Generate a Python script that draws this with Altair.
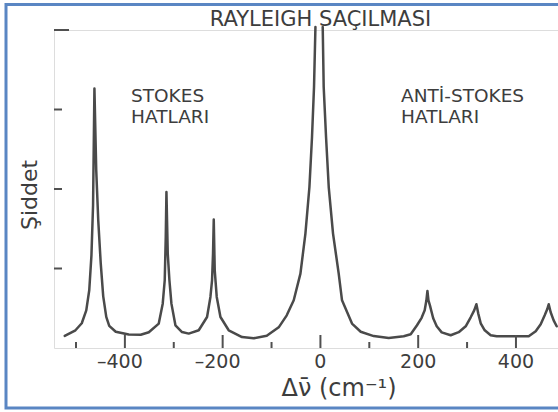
import altair as alt
import pandas as pd

# ---- spectrum (Raman shift in cm^-1, intensity in axis units) ----
shift_left = [-523.0, -501.1, -488.2, -479.0, -472.9, -468.4, -465.1, -462.3, -458.6, -454.5,
              -449.4, -444.3, -438.1, -432.0, -418.7, -392.1, -367.6, -351.0, -330.7, -322.6,
              -318.5, -316.4, -315.0, -312.3, -308.9, -304.8, -296.6, -283.1, -269.4, -248.9,
              -231.9, -225.0, -221.7, -219.7, -218.2, -216.2, -212.1, -204.5, -187.6, -160.4,
              -136.4, -109.8, -85.3, -68.9, -54.6, -40.9, -30.7, -22.5, -17.2, -13.1, -10.2]
int_left = [0.153, 0.223, 0.311, 0.474, 0.726, 1.166, 1.795, 3.263, 2.235, 1.606,
            1.065, 0.650, 0.392, 0.279, 0.204, 0.169, 0.166, 0.198, 0.307, 0.558,
            0.852, 1.396, 1.962, 1.187, 0.852, 0.558, 0.286, 0.201, 0.181, 0.223,
            0.390, 0.642, 0.852, 1.187, 1.615, 0.977, 0.642, 0.390, 0.223, 0.138,
            0.122, 0.153, 0.260, 0.411, 0.600, 0.936, 1.439, 2.025, 2.654, 3.283, 4.038]

shift_right = [4.7, 6.7, 11.5, 17.0, 25.8, 37.4, 44.2, 64.6, 82.4, 109.0, 139.7, 170.4,
               184.7, 197.6, 207.0, 213.3, 216.8, 218.9, 221.0, 224.0, 230.7, 237.9, 248.1,
               266.5, 282.9, 297.2, 307.4, 314.6, 319.1, 322.8, 327.9, 336.1, 348.3, 360.6,
               426.1, 440.4, 450.6, 458.8, 463.9, 467.0, 471.0, 477.1, 483.3]
int_right = [4.038, 3.283, 2.654, 2.025, 1.439, 0.936, 0.600, 0.307, 0.204, 0.150, 0.126, 0.147,
             0.172, 0.286, 0.380, 0.474, 0.600, 0.717, 0.600, 0.536, 0.374, 0.273, 0.197,
             0.160, 0.199, 0.273, 0.386, 0.474, 0.550, 0.436, 0.311, 0.223, 0.160, 0.147,
             0.147, 0.210, 0.298, 0.411, 0.487, 0.550, 0.449, 0.348, 0.273]

x_major_ticks = [-400, -200, 0, 200, 400]
x_major_labels = ["–400", "–200", "0", "200", "400"]
x_minor_ticks = [-500, -300, -100, 100, 300]
y_ticks = [1, 2, 3]
y_top_tick = [4]

title_text = "RAYLEIGH SAÇILMASI"
stokes_lines = ["STOKES", "HATLARI"]
anti_lines = ["ANTİ-STOKES", "HATLARI"]
x_title = "Δν̄ (cm⁻¹)"
y_title = "Şiddet"

# ---- styling ----
W, H = 504, 318
FONT = "DejaVu Sans"
INK = "#3d3d3d"
AXIS = "#505050"
CURVE = "#4a4a4a"
FRAME = "#5a86c3"

df = pd.DataFrame({
    "shift": shift_left + shift_right,
    "intensity": int_left + int_right,
    "part": ["stokes side"] * len(shift_left) + ["anti-stokes side"] * len(shift_right),
})

xscale = alt.Scale(domain=[-545, 486], nice=False, zero=False)
yscale = alt.Scale(domain=[0, 4], nice=False, zero=False)

frame = alt.Chart(pd.DataFrame({"f": [0]})).mark_rect(
    fill="transparent", stroke=FRAME, strokeWidth=3
).encode(x=alt.value(-48), x2=alt.value(540), y=alt.value(-25.5), y2=alt.value(378))

line = alt.Chart(df).mark_line(
    color=CURVE, strokeWidth=2.5, strokeJoin="round", strokeCap="round"
).encode(
    x=alt.X("shift:Q", scale=xscale, axis=alt.Axis(
        labels=False, ticks=False, grid=False, title=None,
        domainColor=AXIS, domainWidth=2)),
    y=alt.Y("intensity:Q", scale=yscale, axis=alt.Axis(
        labels=False, ticks=False, grid=False, title=None,
        domainColor=AXIS, domainWidth=2)),
    detail="part:N",
    order=alt.Order("shift:Q"),
)

tick_df = pd.DataFrame({"v": x_major_ticks, "lab": x_major_labels})

xt_major = alt.Chart(tick_df).mark_rule(color=AXIS, strokeWidth=2).encode(
    x=alt.X("v:Q", scale=xscale, axis=None), y=alt.value(H - 13), y2=alt.value(H))
xt_minor = alt.Chart(pd.DataFrame({"v": x_minor_ticks})).mark_rule(color=AXIS, strokeWidth=2).encode(
    x=alt.X("v:Q", scale=xscale, axis=None), y=alt.value(H - 6), y2=alt.value(H))
yt = alt.Chart(pd.DataFrame({"v": y_ticks})).mark_rule(color=AXIS, strokeWidth=2).encode(
    y=alt.Y("v:Q", scale=yscale, axis=None), x=alt.value(0), x2=alt.value(8))
yt_top = alt.Chart(pd.DataFrame({"v": y_top_tick})).mark_rule(color=AXIS, strokeWidth=2).encode(
    y=alt.Y("v:Q", scale=yscale, axis=None), x=alt.value(0), x2=alt.value(15))

# tick labels (negative labels shifted so that the digits sit centred on the tick)
xl_neg = alt.Chart(tick_df).transform_filter("datum.v < 0").mark_text(
    font=FONT, fontSize=19, color=INK, align="center", baseline="alphabetic", dx=-5
).encode(x=alt.X("v:Q", scale=xscale, axis=None), y=alt.value(H + 20), text="lab:N")
xl_pos = alt.Chart(tick_df).transform_filter("datum.v >= 0").mark_text(
    font=FONT, fontSize=19, color=INK, align="center", baseline="alphabetic"
).encode(x=alt.X("v:Q", scale=xscale, axis=None), y=alt.value(H + 20), text="lab:N")

xtitle_t = alt.Chart(pd.DataFrame({"label": [x_title]})).mark_text(
    font=FONT, fontSize=24, color=INK, align="center", baseline="middle"
).encode(text="label:N", x=alt.value(285), y=alt.value(H + 41))

ytitle_t = alt.Chart(pd.DataFrame({"label": [y_title]})).mark_text(
    font=FONT, fontSize=22, color=INK, align="center", baseline="middle", angle=270
).encode(text="label:N", x=alt.value(-24), y=alt.value(165))

title_t = alt.Chart(pd.DataFrame({"label": [title_text]})).mark_text(
    font=FONT, fontSize=21, color=INK, align="center", baseline="alphabetic"
).encode(text="label:N", x=alt.value(266.5), y=alt.value(-4))


def block(lines, x):
    layers = []
    for i, txt in enumerate(lines):
        layers.append(
            alt.Chart(pd.DataFrame({"label": [txt]})).mark_text(
                font=FONT, fontSize=18.5, color=INK, align="left", baseline="alphabetic"
            ).encode(text="label:N", x=alt.value(x), y=alt.value(71.5 + 21.6 * i))
        )
    return layers


chart = alt.layer(
    line, frame, xt_major, xt_minor, yt, yt_top, xl_neg, xl_pos, xtitle_t, ytitle_t, title_t,
    *block(stokes_lines, 77), *block(anti_lines, 347)
).properties(
    width=W, height=H,
    autosize=alt.AutoSizeParams(type="none"),
    padding={"left": 54, "top": 30, "right": 0, "bottom": 64},
).configure_view(stroke=None).configure(background="white")

chart.save("out.html", embed_options={"renderer": "svg", "actions": False})
